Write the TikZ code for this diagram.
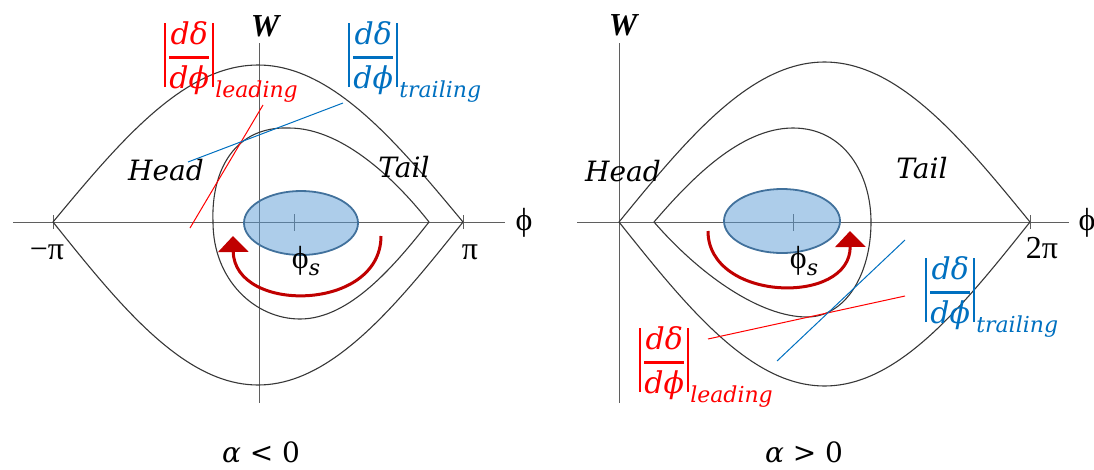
\RequirePackage{fix-cm}
\documentclass[tikz,border=0pt]{standalone}
\usepackage{fontspec}
\newfontfamily\tms{Liberation Serif}
\newfontfamily\cam{DejaVu Serif}
\usetikzlibrary{arrows.meta,shapes.geometric}
\definecolor{myred}{RGB}{255,0,0}
\definecolor{myblue}{RGB}{0,112,192}
\definecolor{arrred}{RGB}{192,0,0}
\definecolor{ellfill}{RGB}{91,155,213}
\definecolor{elldraw}{RGB}{65,113,156}
\definecolor{curvecol}{RGB}{55,55,55}
\definecolor{axiscol}{RGB}{95,95,95}
\newcommand\absbar{\vrule width 2pt height 42pt depth 22pt}
\newcommand\dfr[1]{\mbox{\absbar\hspace{2pt}%
  $\displaystyle{\hbox{\cam\itshape dδ}\above 2.4pt\hbox{\cam\itshape dϕ}}$%
  \hspace{2pt}\absbar\hspace{1pt}%
  \raisebox{-32pt}{\fontsize{22}{26}\selectfont\cam\itshape #1}}}
\begin{document}
\begin{tikzpicture}[x=1pt,y=-1pt,
  axisline/.style={draw=axiscol, line width=0.9pt},
  sepline/.style={draw=curvecol, line width=1.1pt},
  bunch/.style={ellipse, draw=elldraw, line width=1.8pt, fill=ellfill, fill opacity=0.5, inner sep=0pt},
  motion/.style={draw=arrred, line width=3pt, -{Triangle[length=16pt,width=30pt]}},
  redlead/.style={draw=myred, line width=1pt},
  bluelead/.style={draw=myblue, line width=1pt},
  lbl/.style={inner sep=0pt, font=\cam\itshape\fontsize{28}{34}\selectfont},
  axlbl/.style={inner sep=0pt, font=\tms\fontsize{32}{38}\selectfont},
  wlbl/.style={inner sep=0pt, font=\tms\bfseries\itshape\fontsize{32}{38}\selectfont},
  fraclbl/.style={inner sep=0pt, anchor=base west, font=\fontsize{30}{36}\selectfont},
]
\useasboundingbox (0,0) rectangle (1094,469);

% ---------------- left panel (alpha < 0) ----------------
\draw[axisline] (13,222) -- (505,222);
\draw[axisline] (259,43) -- (259,403);
\draw[axisline] (53,215) -- (53,229);
\draw[axisline] (463,215) -- (463,229);
\draw[axisline] (294,214) -- (294,231);

\draw[sepline] plot[domain=-1:1,samples=81] ({258+205*\x},{222-157*cos(90*\x)});
\draw[sepline] plot[domain=-1:1,samples=81] ({258+205*\x},{222+163*cos(90*\x)});
\draw[sepline] (429,222) .. controls (400,185) and (345,128) .. (289,128)
  .. controls (235,126) and (211,170) .. (213,222)
  .. controls (213,280) and (255,319) .. (300,319)
  .. controls (350,319) and (395,265) .. (429,222);

\node[bunch, minimum width=114pt, minimum height=64pt] (bunchL) at (301,223) {};

\coordinate (aLs) at (381,236);
\coordinate (aLe) at (233,236);
\draw[motion] (aLs) .. controls (381,312) and (234,314) .. (aLe);

\node[wlbl] (WL) at (265,26) {W};
\node[axlbl] (phiL) at (524,223) {ϕ};
\node[axlbl] (mpiL) at (47,252) {−π};
\node[axlbl] (piL) at (470,252) {π};
\node[axlbl] (phisL) at (306,261) {ϕ{\fontsize{22}{26}\selectfont\cam\itshape\raisebox{-7pt}{s}}};
\node[lbl] (headL) at (166,170) {Head};
\node[lbl] (tailL) at (404,167) {Tail};
\node[lbl, font=\cam\fontsize{28}{34}\selectfont] (alphaL) at (261,452) {{\itshape α} < 0};

\node[fraclbl, text=myred] (leadL) at (164,65) {\dfr{leading}};
\node[fraclbl, text=myblue] (trailL) at (348,65) {\dfr{trailing}};

\coordinate (rLa) at (190,228);
\coordinate (rLb) at (263,105);
\coordinate (bLa) at (188,162);
\coordinate (bLb) at (343,103);
\draw[redlead] (rLa) -- (rLb);
\draw[bluelead] (bLa) -- (bLb);

% ---------------- right panel (alpha > 0) ----------------
\draw[axisline] (577,222) -- (1069,222);
\draw[axisline] (619,43) -- (619,403);
\draw[axisline] (1030,215) -- (1030,229);
\draw[axisline] (793,214) -- (793,231);

\draw[sepline] plot[domain=-1:1,samples=81] ({824.5+205.5*\x},{222-160*cos(90*\x)});
\draw[sepline] plot[domain=-1:1,samples=81] ({824.5+205.5*\x},{222+164*cos(90*\x)});
\draw[sepline] (654,222) .. controls (690,180) and (740,128) .. (793,128)
  .. controls (845,128) and (871,175) .. (871,222)
  .. controls (871,275) and (845,317) .. (807,317)
  .. controls (760,317) and (700,275) .. (654,222);

\node[bunch, minimum width=116pt, minimum height=64pt] (bunchR) at (782,221) {};

\coordinate (aRs) at (708,231);
\coordinate (aRe) at (850,231);
\draw[motion] (aRs) .. controls (708,302) and (851,306) .. (aRe);

\node[wlbl] (WR) at (623,25) {W};
\node[axlbl] (phiR) at (1087,223) {ϕ};
\node[axlbl] (twopiR) at (1042,248) {2π};
\node[axlbl] (phisR) at (804,261) {ϕ{\fontsize{22}{26}\selectfont\cam\itshape\raisebox{-7pt}{s}}};
\node[lbl] (headR) at (623,171) {Head};
\node[lbl] (tailR) at (922,168) {Tail};
\node[lbl, font=\cam\fontsize{28}{34}\selectfont] (alphaR) at (804,452) {{\itshape α} > 0};

\node[fraclbl, text=myblue] (trailR) at (925,300) {\dfr{trailing}};
\node[fraclbl, text=myred] (leadR) at (639,370) {\dfr{leading}};

\coordinate (rRa) at (708,339);
\coordinate (rRb) at (905,296);
\coordinate (bRa) at (777,361);
\coordinate (bRb) at (905,240);
\draw[redlead] (rRa) -- (rRb);
\draw[bluelead] (bRa) -- (bRb);
\end{tikzpicture}
\end{document}
